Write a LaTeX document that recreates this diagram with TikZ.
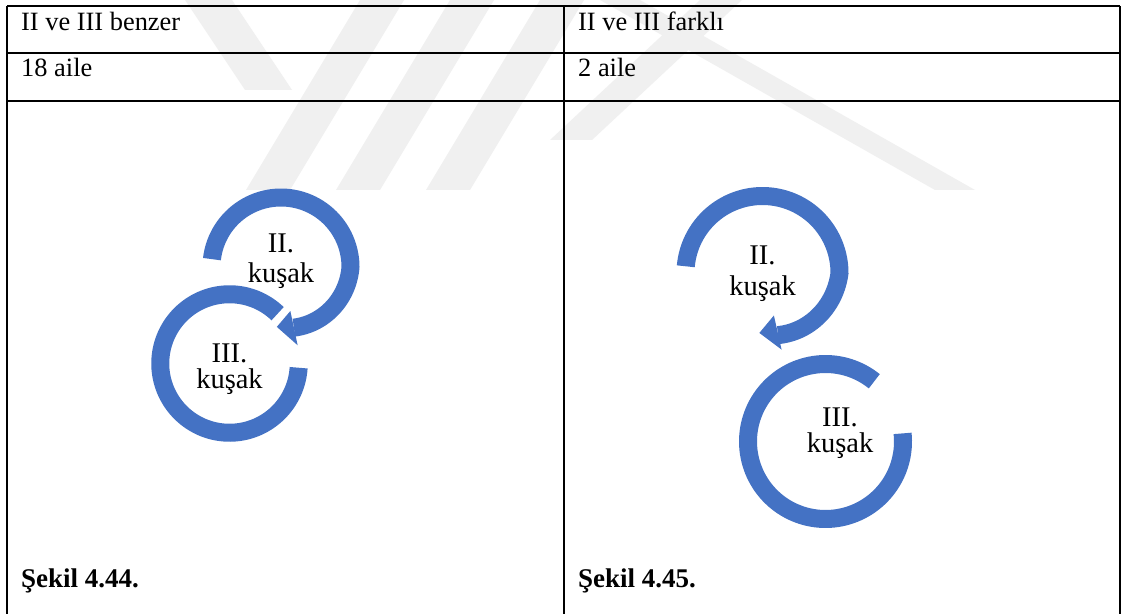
\documentclass[tikz,border=0pt]{standalone}
\usepackage{fontspec}
\setmainfont{Liberation Serif}
\definecolor{arcblue}{HTML}{4472C4}
\definecolor{wm}{HTML}{F0F0F0}
\begin{document}
\begin{tikzpicture}[x=1pt,y=1pt,
  grid/.style={line width=1.6pt,black},
  celltext/.style={anchor=base west,inner sep=0pt,font=\fontsize{26.4}{30}\selectfont},
  captext/.style={anchor=base west,inner sep=0pt,font=\bfseries\fontsize{27}{30}\selectfont},
  ringtext/.style={anchor=base,inner sep=0pt,font=\fontsize{28.5}{30}\selectfont},
  ring/.style={line width=18pt,arcblue},
  headfill/.style={fill=arcblue},
  wmark/.style={fill=wm}]
\useasboundingbox (0,0) rectangle (1121,614);
\fill[white] (0,0) rectangle (1121,614);
% faint watermark
\foreach \xo in {360,450,540}{
  \fill[wmark] (\xo,614) -- (\xo+44,614) -- (\xo-70,424) -- (\xo-114,424) -- cycle;
}
\fill[wmark] (185,614) -- (232,614) -- (292,524) -- (245,524) -- cycle;
\fill[wmark] (700,614) -- (742,614) -- (592,474) -- (550,474) -- cycle;
\fill[wmark] (600,614) -- (640,614) -- (975,424) -- (935,424) -- cycle;
% table grid
\coordinate (tl) at (7,608);
\coordinate (tm) at (564,608);
\coordinate (tr) at (1120,608);
\coordinate (bl) at (7,0);
\coordinate (bm) at (564,0);
\coordinate (br) at (1120,0);
\draw[grid] (tl) -- (tr);
\draw[grid] (7,561) -- (1120,561);
\draw[grid] (7,513) -- (1120,513);
\draw[grid] (tl) -- (bl);
\draw[grid] (tm) -- (bm);
\draw[grid] (tr) -- (br);
% cell texts
\node[celltext] (h1) at (21,583) {II ve III benzer};
\node[celltext] (h2) at (578,583) {II ve III farklı};
\node[celltext] (n1) at (21,537.5) {18 aile};
\node[celltext] (n2) at (578,537.5) {2 aile};
\node[captext] (c1) at (21,27) {Şekil 4.44.};
\node[captext] (c2) at (578,27) {Şekil 4.45.};
% ---- left figure ----
\draw[ring] plot[domain=173.5:-78,samples=120]
  ({281+(69.5+7.5*min(\x,0)/78)*cos(\x)},{347+(69.5+7.5*min(\x,0)/78)*sin(\x)});
\fill[headfill] ({281+45*cos(-78)},{347+45*sin(-78)}) -- ({281+60*cos(-94)},{347+60*sin(-94)})
  -- ({281+80*cos(-78)},{347+80*sin(-78)}) -- cycle;
\draw[ring] plot[domain=46:356.5,samples=120]
  ({229.5+69.25*cos(\x)},{250.5+69.25*sin(\x)});
\node[ringtext] (l2a) at (281,361) {II.};
\node[ringtext] (l2b) at (281,331) {kuşak};
\node[ringtext] (l3a) at (229.5,252) {III.};
\node[ringtext] (l3b) at (229.5,226) {kuşak};
% ---- right figure ----
\draw[ring] plot[domain=175:-76,samples=120]
  ({762.5+(77+13*min(\x,0)/76)*cos(\x)},{341+(77+13*min(\x,0)/76)*sin(\x)});
\fill[headfill] ({762.5+44*cos(-75)},{341+44*sin(-75)}) -- ({762.5+60*cos(-93)},{341+60*sin(-93)})
  -- ({762.5+79*cos(-76)},{341+79*sin(-76)}) -- cycle;
\draw[ring] plot[domain=51:366,samples=120]
  ({825.5+77.5*cos(\x)},{172.5+77.5*sin(\x)});
\node[ringtext] (r2a) at (762.5,349) {II.};
\node[ringtext] (r2b) at (762.5,319) {kuşak};
\node[ringtext] (r3a) at (840,188) {III.};
\node[ringtext] (r3b) at (840,162) {kuşak};
\end{tikzpicture}
\end{document}
